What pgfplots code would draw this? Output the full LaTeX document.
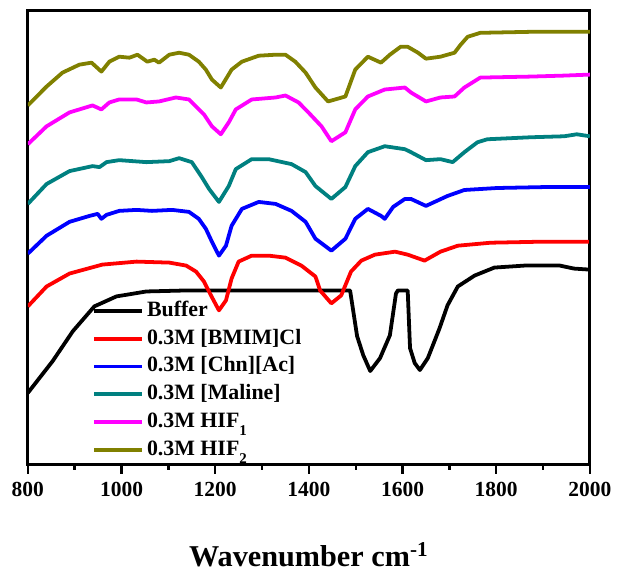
\documentclass[border=0pt]{standalone}
\usepackage{pgfplots}
\pgfplotsset{compat=1.18}
\usepackage{fontspec}
\setmainfont{Liberation Serif}
\definecolor{cteal}{RGB}{0,128,128}
\definecolor{colive}{RGB}{128,128,0}
\definecolor{cmag}{RGB}{255,0,255}
\newcommand{\lowsub}[1]{\raisebox{-4pt}{\fontsize{7.5}{8}\selectfont #1}}
\begin{document}
\begin{tikzpicture}
\begin{axis}[
  scale only axis,
  width=282.5pt, height=228pt,
  xmin=800, xmax=2000, ymin=0, ymax=456,
  xtick={800,1000,...,2000},
  minor x tick num=1,
  ytick=\empty,
  xtick pos=bottom,
  tick align=outside,
  major tick length=4.5pt,
  minor tick length=2.5pt,
  axis line style={line width=1.5pt},
  every tick/.style={line width=1.2pt, black},
  /pgf/number format/assume math mode=true,
  /pgf/number format/1000 sep={},
  xticklabel style={font=\fontsize{10.8}{12}\selectfont\bfseries, yshift=-1pt},
  xlabel={Wavenumber cm\textsuperscript{-1}},
  xlabel style={font=\fontsize{15.2}{17}\selectfont\bfseries, yshift=-16pt},
  every axis plot/.append style={line width=1.9pt, line join=round},
  legend style={at={(0.115,0.362)}, anchor=north west, draw=none, fill=none,
    font=\fontsize{11}{12}\selectfont\bfseries, inner sep=0pt, outer sep=0pt,
    row sep=3.5pt,
    nodes={inner sep=0pt, text height=8pt, text depth=2.5pt}},
  legend cell align=left,
  legend image code/.code={\draw[#1,line width=1.9pt] (0pt,0pt) -- (24pt,0pt);\path (25.5pt,0pt);},
]
% Buffer
\addplot[black] coordinates {
(800,72) (853,104) (896,134) (942,159) (989,169) (1053,174) (1138,175) (1300,175) (1488,175)
(1503,129) (1516,110) (1531,94) (1552,107) (1573,130) (1586,172) (1590,175) (1611,175)
(1616,117) (1626,102) (1637,95) (1654,107) (1679,137) (1696,160) (1718,179) (1754,190)
(1796,198) (1860,200) (1936,200) (1966,197) (1998,196)
};
\addlegendentry{Buffer}
% BMIM Cl
\addplot[red] coordinates {
(800,159) (840,179) (889,192) (959,201) (1032,204) (1102,203) (1138,200) (1159,194)
(1176,184) (1191,170) (1208,155) (1223,165) (1235,187) (1250,204) (1278,210) (1314,210)
(1350,208) (1384,200) (1414,189) (1424,175) (1448,162) (1469,170) (1490,194) (1512,205)
(1541,211) (1584,214) (1611,211) (1647,205) (1681,214) (1718,220) (1788,223) (1894,224) (1998,224)
};
\addlegendentry{0.3M [BMIM]Cl}
% Chn Ac
\addplot[blue] coordinates {
(800,212) (840,230) (889,244) (932,250) (949,252) (957,247) (968,251) (995,255) (1032,256)
(1065,255) (1108,256) (1144,254) (1165,247) (1180,237) (1193,224) (1208,210) (1223,220)
(1235,240) (1257,257) (1293,264) (1329,262) (1363,255) (1393,244) (1414,227) (1448,215)
(1478,227) (1499,247) (1526,257) (1554,250) (1562,247) (1580,259) (1605,267) (1618,267)
(1650,260) (1696,270) (1732,276) (1802,278) (1909,279) (2000,279)
};
\addlegendentry{0.3M [Chn][Ac]}
% Maline
\addplot[cteal] coordinates {
(800,262) (840,282) (889,295) (938,300) (953,299) (968,304) (995,306) (1053,304) (1102,305)
(1123,308) (1150,304) (1170,290) (1187,277) (1208,264) (1229,280) (1244,297) (1278,307)
(1314,307) (1363,302) (1393,294) (1414,280) (1448,267) (1478,279) (1499,300) (1526,314)
(1562,320) (1605,317) (1618,314) (1650,306) (1681,307) (1707,304) (1732,314) (1760,324)
(1781,327) (1873,329) (1945,330) (1972,332) (2000,330)
};
\addlegendentry{0.3M [Maline]}
% HIF1
\addplot[cmag] coordinates {
(800,322) (840,340) (889,354) (938,361) (957,357) (974,364) (995,367) (1032,367) (1053,364)
(1080,365) (1116,369) (1144,367) (1159,360) (1176,352) (1193,340) (1212,332) (1229,344)
(1244,357) (1278,367) (1329,369) (1350,371) (1378,364) (1399,354) (1427,340) (1448,325)
(1478,334) (1499,357) (1526,370) (1562,377) (1605,379) (1618,374) (1650,365) (1681,369)
(1711,370) (1732,379) (1766,389) (1873,390) (1945,391) (2000,392)
};
\addlegendentry{0.3M HIF\lowsub{1}}
% HIF2
\addplot[colive] coordinates {
(800,361) (840,380) (874,394) (910,402) (936,404) (957,395) (974,405) (995,410) (1017,409)
(1034,412) (1055,405) (1070,407) (1080,404) (1102,412) (1123,414) (1144,412) (1165,405)
(1180,397) (1193,387) (1212,379) (1235,397) (1257,405) (1293,411) (1329,412) (1350,412)
(1371,405) (1393,394) (1414,379) (1441,365) (1478,370) (1499,397) (1526,410) (1554,404)
(1573,412) (1596,420) (1611,420) (1633,414) (1650,408) (1681,410) (1711,414) (1724,422)
(1739,430) (1766,434) (1873,435) (2000,435)
};
\addlegendentry{0.3M HIF\lowsub{2}}
\end{axis}
\path (current axis.south west) ++(-14pt,-51pt) (current axis.north east) ++(12.5pt,5.5pt);
\end{tikzpicture}
\end{document}
